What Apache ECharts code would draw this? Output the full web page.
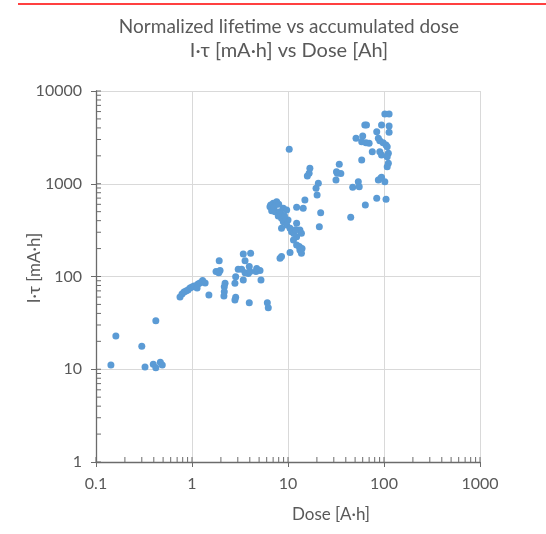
<!DOCTYPE html>
<html><head><meta charset="utf-8">
<script src="https://cdn.jsdelivr.net/npm/echarts@6/dist/echarts.min.js"></script>
<style>html,body{margin:0;padding:0;background:#fff}#c{width:546px;height:534px}</style>
</head><body><div id="c"></div>
<script>
// Dose [A·h]
const doseAh = [
  0.143,0.161,0.30,0.42,0.324,0.395,0.42,0.468,0.49,
  0.75,0.787,0.826,0.866,0.908,0.953,1.0,1.05,1.10,1.155,1.21,1.29,1.37,1.13,1.50,
  1.92,1.78,1.96,1.90,2.21,2.17,2.17,2.15,2.85,2.80,2.80,2.85,3.03,3.42,4.08,3.57,3.29,3.57,3.95,3.86,3.42,4.02,4.64,5.11,5.23,3.95,6.09,6.23,4.72,
  10.3,16.9,16.6,15.9,20.7,19.6,20.1,15.0,14.4,12.3,21.9,21.2,
  6.49,7.03,7.62,6.76,7.33,8.26,8.94,9.69,7.92,8.56,8.94,10.0,9.69,8.56,10.5,10.9,12.3,13.3,13.8,12.3,11.4,12.3,13.1,13.3,13.8,10.5,8.26,8.56,
  6.6,7.2,8.0,8.5,9.2,11.5,12.0,14.0,
  34.2,32.6,31.6,35.5,47.2,54.0,55.2,45.0,63.9,58.6,84.0,105,87.3,102,92.5,94.3,
  102,113,63.1,65.7,94.3,113,84,113,51.1,60,58.6,64.9,70,87.3,90.4,98,105,108,75.5,90.4,94.3,111,108,111,108,32
];
// I·τ [mA·h]
const lifetimeMAh = [
  11.1,22.8,17.7,33.4,10.6,11.3,10.4,11.9,11.1,
  60,64.7,68,69.8,71.5,75,77,79,79,83,85,90.6,85,75,63,
  148,113,116,110,84.5,77.6,68.5,61.6,59.7,55.8,84.5,99.5,120,175,178,148,120,110,128,108,91.6,113,113,116,91.6,52.2,52.2,46.1,122,
  2350,1470,1297,1213,1011,893,756,668,543,557,487,344,
  566,615,640,512,500,500,543,521,449,424,390,406,359,331,331,304,374,317,292,269,248,219,210,193,178,181,157,164,
  590,560,600,470,450,290,320,200,
  1622,1297,1097,1290,916,1052,929,435,590,1803,697,680,1097,1052,1146,1175,
  5650,5650,4300,4300,4300,4200,3640,3590,3090,3275,2840,2765,2730,3090,2910,2765,2620,2510,2220,2220,2040,2130,1960,1660,1528,1350
];
const xTicks = [0.1, 1, 10, 100, 1000];
const yTicks = [1, 10, 100, 1000, 10000];

const points = doseAh.map((d, i) => [d, lifetimeMAh[i]]);
const txt = '#595959';
const axisCol = '#6b6b6b';
const font = 'Lato';

const chart = echarts.init(document.getElementById('c'), null, {renderer: 'canvas'});
chart.setOption({
  animation: false,
  grid: {left: 96, right: 66, top: 91, bottom: 72},
  xAxis: {
    type: 'log', logBase: 10, min: xTicks[0], max: xTicks[xTicks.length - 1],
    axisLine: {lineStyle: {color: axisCol, width: 1.3}},
    axisTick: {show: true, inside: false, length: 5, lineStyle: {color: axisCol}},
    axisLabel: {color: txt, fontFamily: font, fontSize: 16, margin: 14,
      formatter: v => String(+v)},
    splitLine: {show: true, lineStyle: {color: '#d9d9d9', width: 1}}
  },
  yAxis: {
    type: 'log', logBase: 10, min: yTicks[0], max: yTicks[yTicks.length - 1],
    axisLine: {lineStyle: {color: axisCol, width: 1.3}},
    axisTick: {show: true, inside: false, length: 5, lineStyle: {color: axisCol}},
    axisLabel: {color: txt, fontFamily: font, fontSize: 16, margin: 14,
      formatter: v => String(+v)},
    splitLine: {show: true, lineStyle: {color: '#d9d9d9', width: 1}}
  },
  series: [{
    type: 'scatter', data: points, symbolSize: 7,
    itemStyle: {color: '#5b9bd5', opacity: 1}
  }]
});

// titles, axis names, minor ticks
const g = [];
g.push({type: 'line', shape: {x1: 18, y1: 4, x2: 546, y2: 4}, style: {stroke: '#ff0000', lineWidth: 1.5}});
g.push({type: 'text', x: 289, y: 27, style: {text: 'Normalized lifetime vs accumulated dose', fill: txt, font: '19px Lato', textAlign: 'center', textVerticalAlign: 'middle'}});
g.push({type: 'text', x: 289, y: 51, style: {text: 'I·τ [mA·h] vs Dose [Ah]', fill: txt, font: '20px Lato', textAlign: 'center', textVerticalAlign: 'middle'}});
g.push({type: 'text', x: 331, y: 515, style: {text: 'Dose [A·h]', fill: txt, font: '17px Lato', textAlign: 'center', textVerticalAlign: 'middle'}});
g.push({type: 'text', x: 35, y: 268, rotation: Math.PI / 2, style: {text: 'I·τ [mA·h]', fill: txt, font: '17px Lato', textAlign: 'center', textVerticalAlign: 'middle'}});

const x0 = chart.convertToPixel({xAxisIndex: 0}, xTicks[0]);
const yb = chart.convertToPixel({yAxisIndex: 0}, yTicks[0]);
for (let d = 0; d < xTicks.length; d++) {
  const base = xTicks[d];
  const px = chart.convertToPixel({xAxisIndex: 0}, base);
  g.push({type: 'line', shape: {x1: px, y1: yb, x2: px, y2: yb - 5}, style: {stroke: axisCol, lineWidth: 1}});
  if (d < xTicks.length - 1) for (let m = 2; m <= 9; m++) {
    const p = chart.convertToPixel({xAxisIndex: 0}, base * m);
    g.push({type: 'line', shape: {x1: p, y1: yb, x2: p, y2: yb - 5}, style: {stroke: axisCol, lineWidth: 1}});
  }
}
for (let d = 0; d < yTicks.length; d++) {
  const base = yTicks[d];
  const py = chart.convertToPixel({yAxisIndex: 0}, base);
  g.push({type: 'line', shape: {x1: x0, y1: py, x2: x0 + 5, y2: py}, style: {stroke: axisCol, lineWidth: 1}});
  if (d < yTicks.length - 1) for (let m = 2; m <= 9; m++) {
    const p = chart.convertToPixel({yAxisIndex: 0}, base * m);
    g.push({type: 'line', shape: {x1: x0, y1: p, x2: x0 + 5, y2: p}, style: {stroke: axisCol, lineWidth: 1}});
  }
}
chart.setOption({graphic: g});
</script></body></html>
